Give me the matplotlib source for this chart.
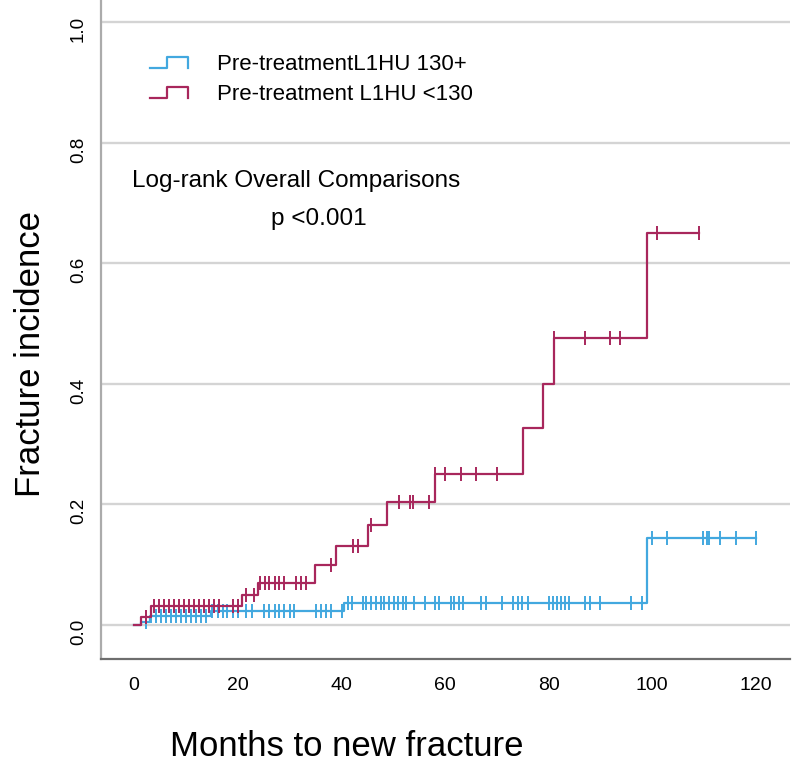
import numpy as np
import matplotlib.pyplot as plt
import matplotlib.transforms as mtrans
from matplotlib.lines import Line2D
from matplotlib.legend_handler import HandlerBase

plt.rcParams['font.family'] = ['Liberation Sans', 'DejaVu Sans']

# --------------------------
# data
# --------------------------

labels = ["Pre-treatmentL1HU 130+", "Pre-treatment L1HU <130"]
colors = ["#42A8DF", "#A8275C"]

# high HU group (blue)
hi_times = [0, 1.3, 3.0, 14.8, 40.6, 99.0]
hi_inc = [0, 0.0055, 0.014, 0.023, 0.037, 0.1445]
hi_end = 120
hi_cens = [2.3, 3.2, 4.2, 5.2, 6.1, 7.1, 8.0, 9.0, 10.0, 11.0, 11.9, 12.9, 13.8,
           15.1, 16.1, 17.1, 18.0, 19.0, 20.0, 21.6, 22.8, 25.1, 26.1, 27.1, 28.0,
           29.0, 30.0, 30.9, 35.1, 36.1, 37.0, 38.0, 40.1, 41.2, 42.1, 44.1, 44.8,
           45.7, 46.7, 47.7, 48.3, 49.1, 50.1, 51.0, 51.8, 52.4, 54.1, 56.2, 58.0,
           58.9, 61.2, 61.8, 62.8, 63.4, 67.0, 67.9, 71.0, 73.1, 74.1, 74.9, 76.0,
           80.1, 80.8, 81.6, 82.3, 83.1, 83.9, 87.1, 87.9, 90.0, 96.0, 98.0,
           100.0, 102.9, 109.8, 110.5, 111.0, 113.0, 116.1, 120.0]

# low HU group (red)
lo_times = [0, 1.3, 3.2, 20.9, 24.0, 35.0, 38.9, 45.1, 48.9, 58.0, 75.0, 79.0, 81.0, 98.9]
lo_inc = [0, 0.013, 0.031, 0.049, 0.069, 0.099, 0.131, 0.166, 0.204, 0.25, 0.326, 0.40, 0.476, 0.65]
lo_end = 109
lo_cens = [2.3, 3.9, 4.8, 5.8, 6.8, 7.7, 8.7, 9.7, 10.6, 11.6, 12.6, 13.5, 14.5, 15.5,
           16.4, 19.0, 20.0, 21.6, 23.2, 24.3, 25.3, 26.1, 27.1, 28.0, 29.0, 31.2,
           32.2, 33.2, 38.0, 42.2, 43.2, 45.8, 51.1, 53.3, 53.9, 57.0, 58.1, 60.0,
           63.0, 66.0, 70.0, 81.1, 87.1, 91.9, 93.8, 100.9, 109.0]

x_ticks = [0, 20, 40, 60, 80, 100, 120]
y_ticks = [0.0, 0.2, 0.4, 0.6, 0.8, 1.0]


class HandlerStep(HandlerBase):
    # little step glyph like the SPSS legend
    def create_artists(self, legend, orig_handle, xdescent, ydescent,
                       width, height, fontsize, trans):
        x0, y0 = -xdescent, -ydescent
        lo, hi = y0 + 0.12*height, y0 + 0.85*height
        xs = [x0, x0 + 0.45*width, x0 + 0.45*width, x0 + width, x0 + width]
        ys = [lo, lo, hi, hi, lo]
        return [Line2D(xs, ys, color=orig_handle.get_color(), lw=1.6, transform=trans)]


def draw_curve(ax, times, inc, end, cens, color):
    t = np.array(times + [end])
    y = np.array(inc + [inc[-1]])
    line, = ax.step(t, y, where="post", color=color, lw=1.6)
    idx = np.searchsorted(times, cens, side="right") - 1
    ax.plot(cens, np.array(inc)[idx], linestyle="none", marker="|",
            ms=10, mew=1.4, color=color)
    return line


fig = plt.figure(figsize=(7.95, 7.67), dpi=100)
ax = fig.add_axes([101/795, 1 - 659/767, (790 - 101)/795, 659/767])

h1 = draw_curve(ax, hi_times, hi_inc, hi_end, hi_cens, colors[0])
h2 = draw_curve(ax, lo_times, lo_inc, lo_end, lo_cens, colors[1])

ax.set_xlim(-6.4, 126.6)
ax.set_ylim(-0.0565, 1.0365)
ax.set_xticks(x_ticks)
ax.set_yticks(y_ticks)
ax.set_yticklabels(["%.1f" % v for v in y_ticks], rotation=90, va="center")
ax.tick_params(axis="x", length=0, pad=13, labelsize=14)
ax.tick_params(axis="y", length=0, pad=10, labelsize=13.5)

# y labels sit a little below their gridlines in the original
shift = mtrans.ScaledTranslation(0, -7/100, fig.dpi_scale_trans)
for lab in ax.get_yticklabels():
    lab.set_transform(lab.get_transform() + shift)

ax.yaxis.grid(True, color="#d4d4d4", lw=1.7)
ax.set_axisbelow(True)
for s in ["top", "right"]:
    ax.spines[s].set_visible(False)
ax.spines["left"].set_color("#ababab")
ax.spines["left"].set_linewidth(1.6)
ax.spines["bottom"].set_color("#6e6e6e")
ax.spines["bottom"].set_linewidth(1.6)

ax.text(-0.4, 0.726, "Log-rank Overall Comparisons", fontsize=17.5, va="baseline")
ax.text(26.4, 0.663, "p <0.001", fontsize=17.5, va="baseline")

fig.text(347/795, 1 - 746/767, "Months to new fracture", fontsize=25, ha="center", va="center")
fig.text(31/795, 1 - 354/767, "Fracture incidence", fontsize=25, rotation=90, ha="center", va="center")

ax.legend([h1, h2], labels, handler_map={Line2D: HandlerStep()},
          loc="upper left", bbox_to_anchor=(150/795, 1 - 54/767),
          bbox_transform=fig.transFigure, frameon=False, fontsize=16,
          handlelength=1.7, handletextpad=1.3, labelspacing=0.4,
          borderpad=0, borderaxespad=0)

plt.savefig("out.png", dpi=100)
